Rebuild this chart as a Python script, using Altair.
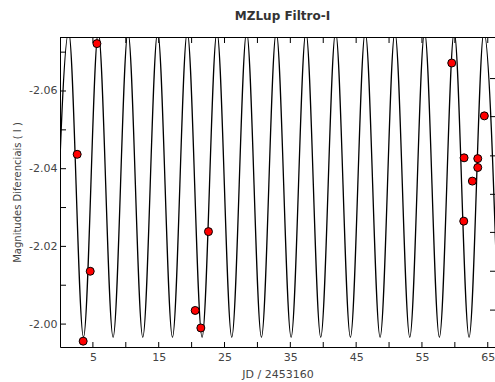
import altair as alt
import pandas as pd

# ---- data ----
# fitted light curve: successive extremes (troughs / peaks) of the model curve
curve_jd = [-0.93, 1.32, 3.57, 5.82, 8.07, 10.33, 12.58, 14.84, 17.09, 19.34,
            21.59, 23.85, 26.10, 28.36, 30.61, 32.86, 35.12, 37.37, 39.62, 41.88,
            44.13, 46.38, 48.64, 50.89, 53.15, 55.40, 57.65, 59.90, 62.16, 64.41, 66.66]
curve_mag = [-1.9966, -2.0752] * 15 + [-1.9966]

# observations
obs_jd = [2.61, 3.52, 4.59, 5.61, 20.54, 21.40, 22.56,
          59.53, 61.35, 61.40, 62.66, 63.48, 63.48, 64.48]
obs_mag = [-2.0437, -1.9956, -2.0136, -2.0722, -2.0035, -1.9990, -2.0238,
           -2.0672, -2.0265, -2.0428, -2.0368, -2.0403, -2.0426, -2.0536]

# tick positions
x_labels = [5, 15, 25, 35, 45, 55, 65]
x_ticks = [5, 10, 15, 20, 25, 30, 35, 40, 45, 50, 55, 60, 65]
y_labels = [-2.06, -2.04, -2.02, -2.00]
y_ticks_left = [-2.07, -2.06, -2.05, -2.04, -2.03, -2.02, -2.01, -2.00]
y_ticks_right = [-2.0632, -2.0534, -2.0433, -2.0334, -2.0236, -2.0136, -2.0036]

X_DOMAIN = [0, 66.1]
Y_DOMAIN = [-2.0739, -1.9941]
W, H = 435, 310
FONT = "DejaVu Sans"
TXT = "#444444"

curve_df = pd.DataFrame({"jd": curve_jd, "mag": curve_mag})
obs_df = pd.DataFrame({"jd": obs_jd, "mag": obs_mag})
xt_df = pd.DataFrame({"jd": x_ticks})
ylt_df = pd.DataFrame({"mag": y_ticks_left})
yrt_df = pd.DataFrame({"mag": y_ticks_right})

xs = alt.Scale(domain=X_DOMAIN, nice=False, zero=False)
ys = alt.Scale(domain=Y_DOMAIN, reverse=True, nice=False, zero=False)

ax_x = alt.Axis(
    values=x_labels, title="JD / 2453160", tickSize=0, labelPadding=4,
    grid=False, domainColor="black", domainWidth=1, labelFontSize=11,
    titleFontSize=11, titleFontWeight="normal", titlePadding=6,
    labelColor=TXT, titleColor=TXT, labelFont=FONT, titleFont=FONT,
    labelFlush=False)
ax_y = alt.Axis(
    values=y_labels, title="Magnitudes Diferenciais ( I )", tickSize=0,
    labelPadding=3, grid=False, domainColor="black", domainWidth=1,
    labelFontSize=11, titleFontSize=10, titleFontWeight="normal",
    titlePadding=6, labelColor=TXT, titleColor=TXT, labelFont=FONT,
    titleFont=FONT, labelFlush=False,
    labelExpr="'-' + format(abs(datum.value), '.2f')")


def X(f="jd"):
    return alt.X(f"{f}:Q", scale=xs, axis=ax_x)


def Y(f="mag"):
    return alt.Y(f"{f}:Q", scale=ys, axis=ax_y)


curve = alt.Chart(curve_df).mark_line(
    color="black", strokeWidth=1.3, interpolate="monotone", clip=True
).encode(x=X(), y=Y())

points = alt.Chart(obs_df).mark_circle(
    color="#ff0000", stroke="black", strokeWidth=1, size=64, opacity=1
).encode(x=X(), y=Y())

left_ticks = alt.Chart(ylt_df).mark_rule(color="black", strokeWidth=1).encode(
    y=Y(), x=alt.value(0), x2=alt.value(6))
right_ticks = alt.Chart(yrt_df).mark_rule(color="black", strokeWidth=1).encode(
    y=Y(), x=alt.value(W - 5), x2=alt.value(W))
bottom_ticks = alt.Chart(xt_df).mark_rule(color="black", strokeWidth=1).encode(
    x=X(), y=alt.value(H - 5), y2=alt.value(H))
top_ticks = alt.Chart(xt_df).mark_rule(color="black", strokeWidth=1).encode(
    x=X(), y=alt.value(0), y2=alt.value(6))
top_line = alt.Chart(xt_df).mark_rule(color="black", strokeWidth=1).encode(
    x=alt.value(0), x2=alt.value(W), y=alt.value(0.5))

chart = alt.layer(
    curve, left_ticks, right_ticks, bottom_ticks, top_ticks, top_line, points
).properties(
    width=W, height=H,
    title=alt.TitleParams("MZLup Filtro-I", fontSize=12, fontWeight="bold",
                          font=FONT, color="#333333", offset=14, dx=5),
    autosize=alt.AutoSizeParams(type="none"),
    padding={"left": 60, "top": 37, "right": 0, "bottom": 35},
).configure_view(stroke=None)

chart.save("out.html", embed_options={"renderer": "svg", "actions": False})
